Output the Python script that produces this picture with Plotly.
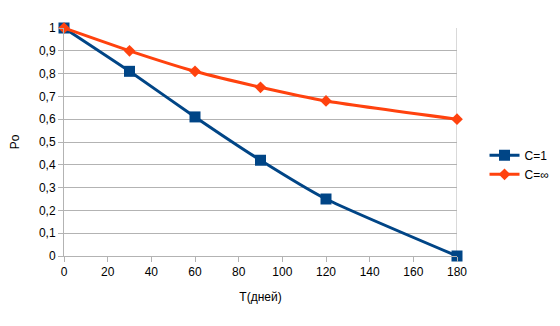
import plotly.graph_objects as go

t_days = [0, 30, 60, 90, 120, 180]
p_c1 = [1.0, 0.81, 0.61, 0.42, 0.25, 0.0]
p_cinf = [1.0, 0.90, 0.81, 0.74, 0.68, 0.60]
y_ticks = [0, 0.1, 0.2, 0.3, 0.4, 0.5, 0.6, 0.7, 0.8, 0.9, 1]
y_labels = ["0", "0,1", "0,2", "0,3", "0,4", "0,5", "0,6", "0,7", "0,8", "0,9", "1"]

fig = go.Figure()
fig.add_trace(go.Scatter(
    x=t_days, y=p_c1, name="C=1", mode="lines+markers", cliponaxis=False,
    line=dict(color="#004586", width=3, shape="spline", smoothing=0.5),
    marker=dict(symbol="square", size=11, color="#004586"),
))
fig.add_trace(go.Scatter(
    x=t_days, y=p_cinf, name="C=∞", mode="lines+markers", cliponaxis=False,
    line=dict(color="#ff420e", width=3, shape="spline", smoothing=0.5),
    marker=dict(symbol="diamond", size=9, color="#ff420e"),
))

fig.update_layout(
    width=560, height=326,
    margin=dict(l=64, r=103, t=28, b=70, autoexpand=False),
    paper_bgcolor="white", plot_bgcolor="white",
    font=dict(family="Liberation Sans, Arial, sans-serif", size=12, color="black"),
    legend=dict(x=1.07, y=0.40, xanchor="left", yanchor="middle",
                font=dict(size=12), tracegroupgap=8, itemwidth=30),
    showlegend=True,
)
fig.update_xaxes(
    range=[0, 180], tickmode="array", tickvals=list(range(0, 181, 20)),
    showgrid=False, showline=True, linecolor="#b3b3b3", linewidth=1,
    ticks="outside", ticklen=5, tickcolor="#b3b3b3",
    mirror=False, zeroline=False,
    title=dict(text="T(дней)", font=dict(size=12), standoff=14),
    tickfont=dict(size=12),
)
fig.update_yaxes(
    range=[0, 1], tickmode="array", tickvals=y_ticks, ticktext=y_labels,
    showgrid=True, gridcolor="#b3b3b3", gridwidth=1,
    showline=True, linecolor="#b3b3b3", linewidth=1,
    ticks="outside", ticklen=5, tickcolor="#b3b3b3", zeroline=False,
    title=dict(text="Po", font=dict(size=12), standoff=16),
    tickfont=dict(size=12),
)
fig.add_shape(type="line", xref="x", yref="y", x0=180, x1=180, y0=0, y1=1,
              line=dict(color="#b3b3b3", width=1), layer="below")

fig.write_html("out.html")
